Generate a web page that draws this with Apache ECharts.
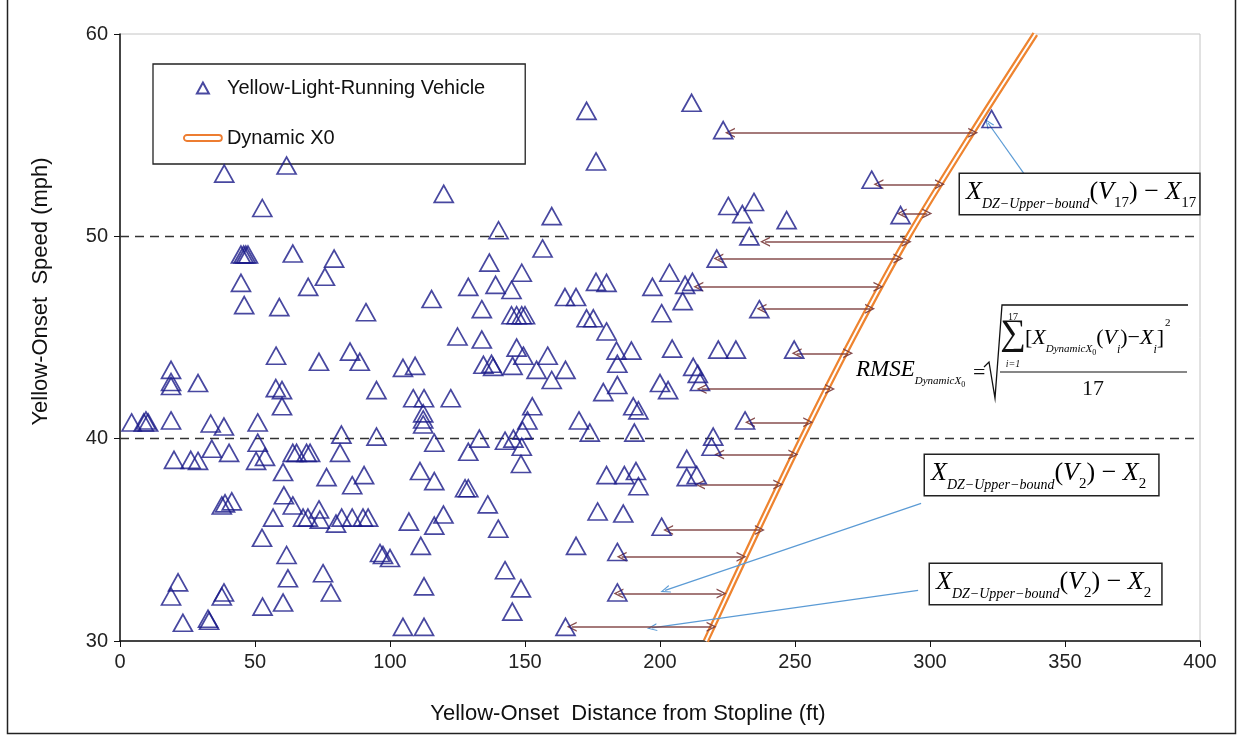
<!DOCTYPE html>
<html>
<head>
<meta charset="utf-8">
<title>Yellow-light running and Dynamic X0</title>
<script src="https://cdn.jsdelivr.net/npm/echarts@6/dist/echarts.min.js"></script>
<style>
html, body { margin: 0; padding: 0; background: #fff; }
#chart { width: 1238px; height: 735px; }
</style>
</head>
<body>
<div id="chart"></div>
<script>
// [yellow-onset distance from stopline (ft), yellow-onset speed (mph)]
const yellowRunners = [
  [4.3,40.8],[8.8,40.8],[9.6,40.9],[10.4,40.8],
  [18.9,43.4],[18.9,42.8],[18.9,42.6],[28.9,42.75],[18.9,40.9],
  [20,38.95],[26.2,38.95],[28.9,38.9],[33.6,40.75],[38.5,40.6],[34,39.5],[40.4,39.3],
  [51,40.8],[51,39.8],[50.4,38.9],[53.7,39.1],
  [57.8,44.1],[57.7,42.5],[60,42.4],[60,41.6],[73.7,43.8],[85.2,44.3],[88.8,43.8],[95,42.4],[104.8,43.5],[109.3,43.6],
  [82,40.2],[95,40.1],[81.5,39.3],[64,39.3],[65.4,39.3],[69.1,39.3],[70.4,39.3],
  [60.4,38.35],[76.5,38.1],[90.4,38.2],[86,37.7],
  [37.7,36.7],[38.9,36.8],[41.4,36.9],[60.7,37.2],[64,36.7],[56.7,36.1],[52.6,35.1],
  [67.8,36.1],[69.6,36.1],[73.7,36.5],[74,36.0],[80,35.8],[82.1,36.1],[86,36.1],[90,36.1],[91.9,36.1],[107,35.9],
  [61.7,34.25],[62.2,33.1],[75.2,33.35],[78.1,32.4],[96.3,34.35],[97.4,34.25],[100,34.1],
  [21.5,32.9],[18.9,32.2],[23.3,30.9],[32.6,31.1],[33,31.0],[37.7,32.2],[38.5,32.4],[52.8,31.7],[60.4,31.9],[104.8,30.7],[112.6,30.7],
  [38.6,53.1],[61.7,53.5],[52.7,51.4],[44.8,49.1],[45.8,49.1],[46.6,49.1],[47.4,49.1],[64,49.15],[79.3,48.9],[75.9,48.0],
  [69.7,47.5],[44.8,47.7],[46,46.6],[59,46.5],[91.1,46.25],
  [172.8,56.2],[211.7,56.6],[176.3,53.7],[119.9,52.1],[159.9,51.0],[140.2,50.3],[156.5,49.4],[136.8,48.7],[148.8,48.2],
  [129,47.5],[139.1,47.6],[145,47.35],[115.4,46.9],[134,46.4],[145,46.1],[146.9,46.1],[148.8,46.1],[150,46.1],
  [164.8,47.0],[168.9,47.0],[176.3,47.75],[180.2,47.7],[172.8,45.95],[175.3,45.95],[180.2,45.3],[197.2,47.5],[203.5,48.2],
  [209.3,47.6],[212,47.75],[208.4,46.8],[200.6,46.2],
  [125,45.05],[134,44.9],[146.9,44.5],[149.4,44.1],[158.4,44.1],[183.9,44.35],[189.4,44.35],[204.5,44.45],[212.3,43.55],
  [134.6,43.65],[137.6,43.7],[138.2,43.55],[145.4,43.6],[154.3,43.4],[165,43.4],[159.9,42.9],[184.2,43.7],[184.2,42.65],
  [179,42.3],[200,42.75],[203,42.4],[214,43.2],[214.8,42.8],
  [108.6,42.0],[112.6,42.0],[122.5,42.0],[112.3,41.25],[112.3,40.95],[112.3,40.7],[152.7,41.6],[150.9,40.9],[170,40.9],
  [190.1,41.6],[192,41.4],
  [116.4,39.8],[133.1,40.0],[129,39.35],[142.6,39.9],[145.7,40.0],[148.8,39.6],[148.5,38.75],[149.1,40.4],[174,40.3],[190.5,40.3],
  [111.1,38.4],[116.4,37.9],[127.8,37.55],[129,37.55],[136.2,36.75],[140.1,35.55],[119.8,36.25],[116.4,35.7],[111.4,34.7],
  [168.9,34.7],[176.9,36.4],[186.4,36.3],[184.2,34.4],[200.6,35.65],[180.2,38.2],[186.8,38.2],[191.1,38.4],[192,37.65],
  [209.9,39.0],[209.9,38.1],[213.6,38.2],
  [142.6,33.5],[148.5,32.6],[145.3,31.45],[112.6,32.7],[165,30.7],[184.2,32.4],
  [223.4,55.25],[322.8,55.8],[278.4,52.8],[225.3,51.5],[230.5,51.1],[234.8,51.7],[246.9,50.8],[289.1,51.05],[233.1,50.0],
  [221,48.9],[236.8,46.4],[221.6,44.4],[228.1,44.4],[249.7,44.4],[231.5,40.9],[219.7,40.1],[219.1,39.6]
];

// Dynamic X0 curve, [distance (ft), speed (mph)]
const dynamicX0 = [[217,30],[234.5,35],[252.5,40],[271.5,45],[292,50],[315,55],[339,60]];

// double arrows from a vehicle to the curve
const arrowSpeed = [55.12, 52.57, 51.13, 49.73, 48.91, 47.51, 46.42, 44.22, 42.45, 40.81, 39.22, 37.74, 35.48, 34.16, 32.35, 30.7];
const arrowFrom  = [225.9, 280.9, 289.5, 238.9, 221.6, 214.2, 237.6, 250.6, 215.4, 233.3, 221.9, 214.8, 203, 185.8, 184.6, 167.3];
const arrowTo    = [316, 303.7, 299, 291.4, 288.3, 280.9, 277.8, 269.7, 263, 254.9, 249.4, 243.8, 237, 230.2, 222.8, 219.1];

// blue pointers from the label boxes, [from, to]
const callouts = [
  [[334.8, 53.1], [321.5, 55.6]],
  [[296.7, 36.8], [201.9, 32.5]],
  [[295.6, 32.5], [197.0, 30.65]]
];

const refSpeeds = [40, 50];
const xRange = [0, 400, 50];
const yRange = [30, 60, 10];

const chevron = 'path://M5,0 L10,10 L8.5,10 L5,2.9 L1.5,10 L0,10 Z';
const triIcon = 'path://M6,0 L12,11 L0,11 Z';
const lineIcon = 'path://M3,0 L35,0 A3,3 0 0 1 35,6 L3,6 A3,3 0 0 1 3,0 Z';

const sans = 'Liberation Sans, Arial, sans-serif';
const serif = 'Liberation Serif, DejaVu Serif, serif';
const ink = '#111';

function mathStyles(big, small, drop) {
  return {
    X: { fontFamily: serif, fontStyle: 'italic', fontSize: big, color: ink, verticalAlign: 'bottom', padding: [0, 0, drop, 0] },
    n: { fontFamily: serif, fontSize: big, color: ink, verticalAlign: 'bottom', padding: [0, 0, drop, 0] },
    s: { fontFamily: serif, fontStyle: 'italic', fontSize: small, color: ink, verticalAlign: 'bottom' },
    ns: { fontFamily: serif, fontSize: small + 1, color: ink, verticalAlign: 'bottom' }
  };
}

const boxText = function (k) {
  return '{X|X}{s|DZ\u2212Upper\u2212bound}{n|(}{X|V}{ns|' + k + '}{n|) \u2212 }{X|X}{ns|' + k + '}';
};

function labelBox(x, y, k, padR) {
  return {
    type: 'text', x: x, y: y, z: 20,
    style: {
      text: boxText(k),
      rich: mathStyles(26, 14, 6),
      padding: [5, padR, 3, 6],
      borderColor: '#222', borderWidth: 1.5, backgroundColor: '#fff'
    }
  };
}

const chart = echarts.init(document.getElementById('chart'));

chart.setOption({
  animation: false,
  backgroundColor: '#fff',
  grid: { left: 120, right: 38, top: 34, bottom: 94, show: true, borderColor: '#c4c4c4', borderWidth: 1 },
  legend: {
    orient: 'vertical', left: 153, top: 64,
    padding: [14, 40, 16, 30], itemGap: 30,
    itemWidth: 38, itemHeight: 11,
    borderColor: '#222', borderWidth: 1.3, backgroundColor: '#fff',
    textStyle: { fontFamily: sans, fontSize: 20, color: ink },
    selectedMode: false,
    data: [
      { name: 'Yellow-Light-Running Vehicle', icon: triIcon },
      { name: 'Dynamic X0', icon: lineIcon, itemStyle: { color: '#fff', borderColor: '#ed7d31', borderWidth: 1.8 } }
    ]
  },
  xAxis: {
    type: 'value', min: xRange[0], max: xRange[1], interval: xRange[2],
    name: 'Yellow-Onset  Distance from Stopline (ft)', nameLocation: 'middle', nameGap: 62,
    nameTextStyle: { fontFamily: sans, fontSize: 22, color: ink, padding: [0, 64, 0, 0] },
    axisLine: { lineStyle: { color: ink, width: 1.5 } },
    axisTick: { length: 6, lineStyle: { color: ink } },
    axisLabel: { fontFamily: sans, fontSize: 20, color: '#222', margin: 11 },
    splitLine: { show: false }
  },
  yAxis: {
    type: 'value', min: yRange[0], max: yRange[1], interval: yRange[2],
    name: 'Yellow-Onset  Speed (mph)', nameLocation: 'middle', nameGap: 68,
    nameTextStyle: { fontFamily: sans, fontSize: 22, color: ink, padding: [0, 0, 0, 92] },
    axisLine: { lineStyle: { color: ink, width: 1.5 } },
    axisTick: { length: 6, lineStyle: { color: ink } },
    axisLabel: { fontFamily: sans, fontSize: 20, color: '#222', margin: 12 },
    splitLine: { show: false }
  },
  series: [
    {
      name: 'Dynamic X0', type: 'line', data: dynamicX0, z: 3,
      showSymbol: false, smooth: 0.3,
      lineStyle: { color: '#ee8430', width: 6.5 },
      itemStyle: { color: '#ee8430' },
      silent: true,
      markLine: {
        silent: true, symbol: 'none', z: 1,
        label: { show: false },
        lineStyle: { color: '#333', type: [9, 6], width: 1.3 },
        data: refSpeeds.map(v => ({ yAxis: v }))
      }
    },
    {
      name: 'Dynamic X0 core', type: 'line', data: dynamicX0, z: 4,
      showSymbol: false, smooth: 0.3,
      lineStyle: { color: '#fff', width: 2 },
      silent: true,
      markLine: {
        silent: true, symbol: ['none', chevron], symbolSize: [8, 10],
        label: { show: false },
        lineStyle: { color: '#5b9bd5', type: 'solid', width: 1.2 },
        data: callouts.map(c => [{ coord: c[0] }, { coord: c[1] }])
      }
    },
    {
      name: 'Yellow-Light-Running Vehicle', type: 'scatter', data: yellowRunners, z: 5,
      symbol: 'triangle', symbolSize: [19, 17],
      itemStyle: { color: 'rgba(255,255,255,0)', borderColor: '#1a1a88', borderWidth: 1.7 },
      emphasis: { disabled: true },
      silent: true,
      markLine: {
        silent: true, symbol: [chevron, chevron], symbolSize: [10, 10],
        label: { show: false },
        lineStyle: { color: '#7a3b3b', type: 'solid', width: 1.5, opacity: 0.9 },
        data: arrowSpeed.map((v, i) => [{ coord: [arrowFrom[i], v] }, { coord: [arrowTo[i], v] }])
      }
    }
  ],
  graphic: [
    // outer frame
    { type: 'rect', z: 0, silent: true, shape: { x: 7.5, y: -5, width: 1228, height: 738.5 },
      style: { fill: 'none', stroke: '#222', lineWidth: 1.5 } },
    labelBox(960, 174, '17', 3),
    labelBox(925, 455, '2', 12),
    labelBox(930, 564, '2', 10),
    // RMSE formula
    { type: 'text', x: 856, y: 358, z: 20, style: {
        text: '{X|RMSE}{s|DynamicX}{ss|0}',
        rich: {
          X: { fontFamily: serif, fontStyle: 'italic', fontSize: 23, color: ink, verticalAlign: 'bottom', padding: [0, 0, 8, 0] },
          s: { fontFamily: serif, fontStyle: 'italic', fontSize: 11, color: ink, verticalAlign: 'bottom', padding: [0, 0, 2, 0] },
          ss: { fontFamily: serif, fontSize: 8, color: ink, verticalAlign: 'bottom' }
        } } },
    { type: 'text', x: 973, y: 373, z: 20, style: { text: '=', font: '22px ' + serif, fill: ink, verticalAlign: 'middle' } },
    { type: 'polyline', z: 20, shape: { points: [[984, 367], [989, 362], [995, 398], [1002, 305], [1188, 305]] },
      style: { stroke: ink, lineWidth: 1.3, fill: 'none' } },
    { type: 'text', x: 1013, y: 317, z: 20, style: { text: '17', font: '10px ' + serif, fill: ink, align: 'center', verticalAlign: 'middle' } },
    { type: 'text', x: 1013, y: 335, z: 20, style: { text: '\u2211', font: '36px ' + serif, fill: ink, align: 'center', verticalAlign: 'middle' } },
    { type: 'text', x: 1013, y: 364, z: 20, style: { text: 'i=1', font: 'italic 10px ' + serif, fill: ink, align: 'center', verticalAlign: 'middle' } },
    { type: 'text', x: 1025, y: 318, z: 20, style: {
        text: '{n|[}{X|X}{s|DynamicX}{ss|0}{n|(}{X|V}{si|i}{n|)\u2212}{X|X}{si|i}{n|]}{sup|2}',
        rich: {
          X: { fontFamily: serif, fontStyle: 'italic', fontSize: 22, color: ink, verticalAlign: 'bottom', padding: [0, 0, 8, 0] },
          n: { fontFamily: serif, fontSize: 22, color: ink, verticalAlign: 'bottom', padding: [0, 0, 8, 0] },
          s: { fontFamily: serif, fontStyle: 'italic', fontSize: 11, color: ink, verticalAlign: 'bottom', padding: [0, 0, 2, 0] },
          ss: { fontFamily: serif, fontSize: 8, color: ink, verticalAlign: 'bottom' },
          si: { fontFamily: serif, fontStyle: 'italic', fontSize: 12, color: ink, verticalAlign: 'bottom', padding: [0, 0, 1, 0] },
          sup: { fontFamily: serif, fontSize: 11, color: ink, verticalAlign: 'bottom', padding: [0, 0, 28, 1] }
        } } },
    { type: 'line', z: 20, shape: { x1: 1000, y1: 372, x2: 1187, y2: 372 }, style: { stroke: ink, lineWidth: 1.2 } },
    { type: 'text', x: 1093, y: 389, z: 20, style: { text: '17', font: '22px ' + serif, fill: ink, align: 'center', verticalAlign: 'middle' } }
  ]
});
</script>
</body>
</html>
